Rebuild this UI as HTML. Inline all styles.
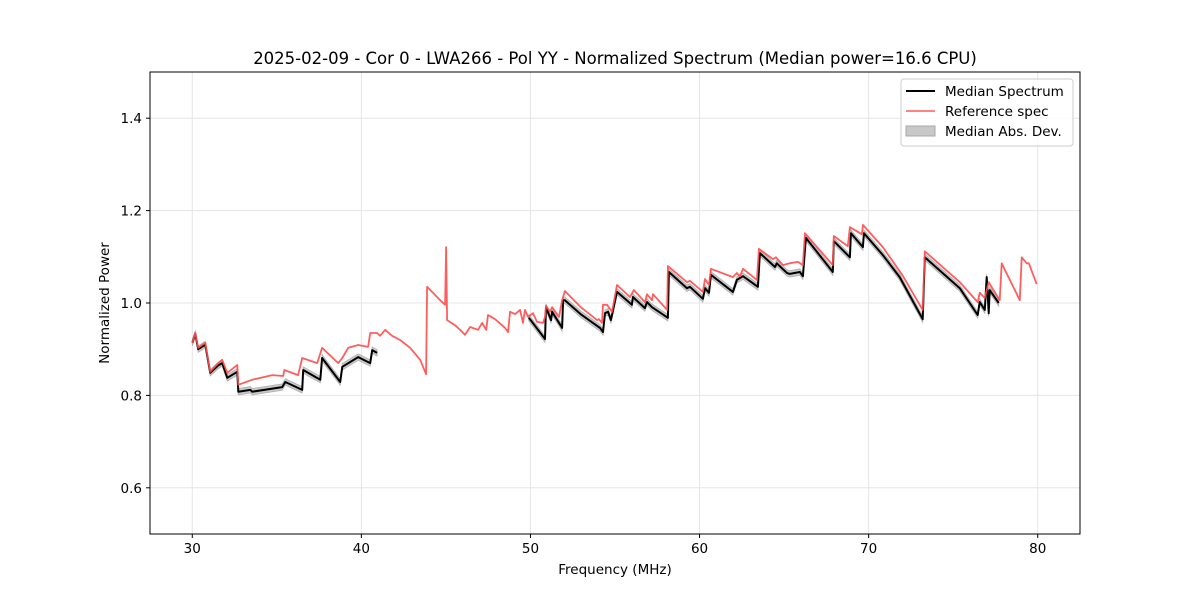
<!DOCTYPE html>
<html><head><meta charset="utf-8"><style>
body{margin:0;background:#fff;}
svg{display:block;font-family:"DejaVu Sans","Liberation Sans",sans-serif;}
</style></head><body>
<svg id="chart" width="1200" height="600" viewBox="0 0 1200 600" xmlns="http://www.w3.org/2000/svg">
<rect x="0" y="0" width="1200" height="600" fill="#fff"/>
<text x="615" y="64" text-anchor="middle" font-size="16.5">2025-02-09 - Cor 0 - LWA266 - Pol YY - Normalized Spectrum (Median power=16.6 CPU)</text>
<g id="grid"></g>
<g id="series"></g>
<rect x="150" y="72" width="930" height="462" fill="none" stroke="#000" stroke-width="1"/>
<g id="axes"></g>
<text x="615" y="574" text-anchor="middle" font-size="13.5">Frequency (MHz)</text>
<text transform="translate(109,303) rotate(-90)" text-anchor="middle" font-size="13.5">Normalized Power</text>
<g>
<rect x="901" y="79" width="172" height="67" rx="3" fill="#fff" fill-opacity="0.8" stroke="#ccc"/>
<line x1="906" y1="91" x2="935" y2="91" stroke="#000" stroke-width="2"/>
<text x="945" y="96" font-size="13.5">Median Spectrum</text>
<line x1="906" y1="111" x2="935" y2="111" stroke="#ff5a5a" stroke-width="1.6"/>
<text x="945" y="116" font-size="13.5">Reference spec</text>
<rect x="906" y="126" width="29" height="10" fill="#c8c8c8" stroke="#a8a8a8"/>
<text x="945" y="136" font-size="13.5">Median Abs. Dev.</text>
</g>
</svg>
<script>
const xTicks=[30,40,50,60,70,80];
const yTicks=[0.6,0.8,1.0,1.2,1.4];
const yTickLabels=["0.6","0.8","1.0","1.2","1.4"];
const refFreq=[30.0,30.18,30.35,30.77,31.06,31.54,31.77,32.07,32.66,32.72,33.55,34.73,35.38,35.44,36.26,36.50,37.39,37.68,38.63,38.87,39.22,39.81,40.40,40.52,40.93,41.11,41.41,41.82,42.29,42.88,43.48,43.83,43.89,44.66,44.95,45.01,45.07,45.54,45.84,46.13,46.43,46.90,47.14,47.38,47.49,47.91,48.50,48.68,48.79,49.09,49.39,49.56,49.68,49.86,50.15,50.39,50.75,50.86,50.92,51.16,51.28,51.69,51.87,52.04,53.0,53.94,54.05,54.23,54.29,54.53,54.82,55.12,55.89,56.12,56.77,56.89,57.19,57.25,58.08,58.13,59.26,59.43,60.20,60.32,60.56,60.67,61.97,62.21,62.39,62.57,63.39,63.51,64.34,64.52,64.93,65.34,65.82,66.11,66.23,67.88,67.94,68.77,68.89,69.60,69.66,70.84,72.0,73.20,73.32,75.39,76.45,76.57,76.87,77.10,77.75,77.87,78.94,79.05,79.35,79.47,79.94];
const refValues=[0.914,0.935,0.903,0.914,0.851,0.870,0.877,0.849,0.866,0.823,0.834,0.844,0.842,0.855,0.844,0.881,0.870,0.903,0.870,0.881,0.903,0.909,0.905,0.935,0.935,0.929,0.942,0.929,0.920,0.903,0.877,0.846,1.035,1.006,0.996,1.121,0.963,0.952,0.942,0.931,0.948,0.942,0.957,0.942,0.974,0.965,0.946,0.937,0.981,0.976,0.985,0.957,0.985,0.970,0.978,0.959,0.957,0.970,0.994,0.981,0.991,0.970,1.006,1.026,0.990,0.963,0.965,0.957,0.996,0.996,0.981,1.039,1.013,1.028,1.002,1.019,1.006,1.019,0.985,1.080,1.045,1.048,1.024,1.052,1.039,1.074,1.056,1.065,1.058,1.074,1.050,1.117,1.095,1.099,1.082,1.086,1.089,1.082,1.151,1.082,1.145,1.123,1.164,1.149,1.169,1.121,1.060,0.985,1.112,1.045,1.002,1.022,1.011,1.045,1.006,1.086,1.006,1.099,1.086,1.086,1.041];
const medFreqA=[30.0,30.18,30.35,30.77,31.06,31.54,31.77,32.07,32.66,32.72,33.43,33.55,35.32,35.50,36.50,36.56,37.57,37.68,38.75,38.87,39.81,40.52,40.64,40.93];
const medValuesA=[0.914,0.933,0.900,0.910,0.849,0.865,0.870,0.838,0.851,0.808,0.812,0.808,0.818,0.829,0.812,0.855,0.834,0.881,0.829,0.862,0.883,0.870,0.898,0.892];
const medFreqB=[49.9,50.09,50.86,50.92,51.22,51.28,51.87,51.93,52.04,53.0,54.11,54.29,54.41,54.59,54.76,55.12,56.00,56.06,56.77,56.89,57.19,58.13,58.19,59.26,59.43,60.20,60.32,60.56,60.67,61.97,62.21,62.57,63.45,63.57,64.46,64.57,65.17,65.34,65.93,66.11,66.29,67.88,67.94,68.89,68.95,69.66,69.72,70.84,71.84,73.20,73.32,75.39,76.45,76.57,76.87,76.98,77.10,77.16,77.69];
const medValuesB=[0.968,0.959,0.922,0.991,0.963,0.981,0.946,1.006,1.006,0.975,0.946,0.937,0.978,0.981,0.963,1.024,0.996,1.013,0.989,1.002,0.991,0.968,1.067,1.032,1.035,1.009,1.032,1.022,1.061,1.024,1.050,1.058,1.035,1.108,1.078,1.086,1.065,1.063,1.067,1.058,1.141,1.067,1.134,1.099,1.151,1.121,1.151,1.104,1.056,0.965,1.099,1.032,0.974,1.002,0.985,1.056,0.978,1.028,1.000];
const madWidth=0.007;

const NS="http://www.w3.org/2000/svg";
const X0=150,X1=1080,Y0=72,Y1=534,XMIN=27.5,XMAX=82.5,YMIN=0.5,YMAX=1.5;
function sx(f){return X0+(f-XMIN)/(XMAX-XMIN)*(X1-X0);}
function sy(v){return Y1-(v-YMIN)/(YMAX-YMIN)*(Y1-Y0);}
function mk(tag,attrs,parent){const e=document.createElementNS(NS,tag);for(const k in attrs)e.setAttribute(k,attrs[k]);parent.appendChild(e);return e;}
const grid=document.getElementById('grid'),axes=document.getElementById('axes'),series=document.getElementById('series');
xTicks.forEach(t=>{
  const x=sx(t);
  const g=mk('line',{x1:x,y1:Y0,x2:x,y2:Y1,stroke:'#e5e5e5','stroke-width':1},grid);
  
  
  const tk=mk('line',{x1:x,y1:Y1,x2:x,y2:Y1+4,stroke:'#000'},axes);
  
  
  const tx=mk('text',{x:x,y:Y1+19,'text-anchor':'middle','font-size':13.5},axes);
  tx.textContent=String(t);
  
  
});
yTicks.forEach((t,i)=>{
  const y=sy(t);
  const g=mk('line',{x1:X0,y1:y,x2:X1,y2:y,stroke:'#e5e5e5','stroke-width':1},grid);
  
  
  const tk=mk('line',{x1:X0-4,y1:y,x2:X0,y2:y,stroke:'#000'},axes);
  
  
  const tx=mk('text',{x:X0-8,y:y+5,'text-anchor':'end','font-size':13.5},axes);
  tx.textContent=yTickLabels[i];
  
  
});
function pts(fs,vs,off){return fs.map((f,i)=>sx(f).toFixed(1)+','+sy(vs[i]+off).toFixed(1));}
[[medFreqA,medValuesA],[medFreqB,medValuesB]].forEach(([fs,vs])=>{
  const up=pts(fs,vs,madWidth),dn=pts(fs,vs,-madWidth).reverse();
  const b=mk('polygon',{points:up.concat(dn).join(' '),fill:'#c8c8c8',stroke:'#b0b0b0','stroke-width':0.8},series);
  
  
});
[[medFreqA,medValuesA],[medFreqB,medValuesB]].forEach(([fs,vs])=>{
  const l=mk('polyline',{points:pts(fs,vs,0).join(' '),fill:'none',stroke:'#000','stroke-width':2,'stroke-linejoin':'round'},series);
  
  
});
const r=mk('polyline',{points:pts(refFreq,refValues,0).join(' '),fill:'none',stroke:'#ff4d4d','stroke-opacity':0.9,'stroke-width':1.8,'stroke-linejoin':'round'},series);


</script>
</body></html>
